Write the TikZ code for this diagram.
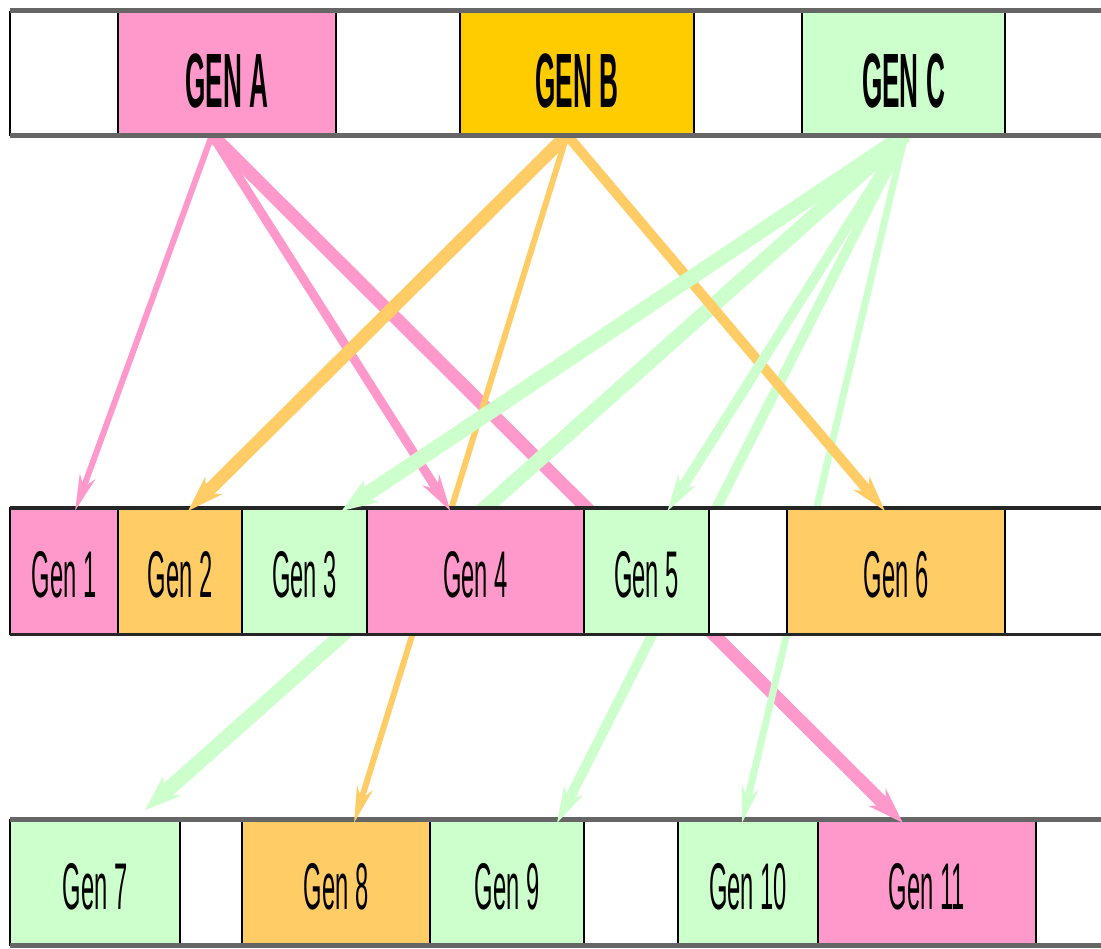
\documentclass[tikz,border=0pt]{standalone}
\usepackage{fontspec}
\setmainfont{Liberation Sans}
\usepackage{graphicx}
\usetikzlibrary{arrows.meta}

\definecolor{genpink}{HTML}{FF99CC}
\definecolor{gengold}{HTML}{FFCC00}
\definecolor{gengreen}{HTML}{CCFFCC}
\definecolor{genorange}{HTML}{FFCC66}

% drawing layers, from lowest to highest
\pgfdeclarelayer{rowlow}
\pgfdeclarelayer{passing}
\pgfdeclarelayer{rowmid}
\pgfdeclarelayer{direct}
\pgfsetlayers{rowlow,passing,rowmid,direct,main}

% condensed lettering
\newcommand{\narrowtxt}[1]{\scalebox{0.36}[1]{#1}}
\newcommand{\narrowbold}[1]{\scalebox{0.34}[1]{\bfseries #1}}

\tikzset{
  cell/.style={rectangle, draw=black, line width=1.6pt, inner sep=0pt,
    outer sep=0pt, anchor=north west},
  toprow/.style={cell, minimum height=123pt,
    font=\fontsize{77}{80}\selectfont, text height=69pt, text depth=0pt},
  midrow/.style={cell, minimum height=126pt,
    font=\fontsize{66}{70}\selectfont, text height=53pt, text depth=0pt},
  botrow/.style={cell, minimum height=125pt,
    font=\fontsize{66}{70}\selectfont, text height=53pt, text depth=0pt},
  lightedge/.style={line width=5pt, draw=black!60},
  darkedge/.style={line width=3pt, draw=black!85},
  link/.style={-{Stealth[length=36pt, width=9pt 1.15, inset=11pt]}},
  pinklink/.style={link, draw=genpink, fill=genpink},
  orangelink/.style={link, draw=genorange, fill=genorange},
  greenlink/.style={link, draw=gengreen, fill=gengreen},
}

\begin{document}
\begin{tikzpicture}[x=1pt, y=-1pt]
\useasboundingbox (0,0) rectangle (1101,949);
\clip (0,0) rectangle (1101,949);

% ---------- top row: GEN A, GEN B, GEN C ----------
\node[toprow, fill=white, minimum width=108pt] (t0) at (10,12) {};
\node[toprow, fill=genpink, minimum width=218pt] (gA) at (118,12) {\narrowbold{GEN A}};
\node[toprow, fill=white, minimum width=124pt] (t1) at (336,12) {};
\node[toprow, fill=gengold, minimum width=234pt] (gB) at (460,12) {\narrowbold{GEN B}};
\node[toprow, fill=white, minimum width=108pt] (t2) at (694,12) {};
\node[toprow, fill=gengreen, minimum width=203pt] (gC) at (802,12) {\narrowbold{GEN C}};
\node[toprow, fill=white, minimum width=100pt] (t3) at (1005,12) {};
\draw[lightedge] (10,11) -- (1101,11);
\draw[lightedge] (10,136) -- (1101,136);

% ---------- middle row: Gen 1 ... Gen 6 ----------
\begin{pgfonlayer}{rowmid}
\node[midrow, fill=genpink, minimum width=108pt] (g1) at (10,508) {\narrowtxt{Gen 1}};
\node[midrow, fill=genorange, minimum width=124pt] (g2) at (118,508) {\narrowtxt{Gen 2}};
\node[midrow, fill=gengreen, minimum width=125pt] (g3) at (242,508) {\narrowtxt{Gen 3}};
\node[midrow, fill=genpink, minimum width=217pt] (g4) at (367,508) {\narrowtxt{Gen 4}};
\node[midrow, fill=gengreen, minimum width=125pt] (g5) at (584,508) {\narrowtxt{Gen 5}};
\node[midrow, fill=white, minimum width=78pt] (m0) at (709,508) {};
\node[midrow, fill=genorange, minimum width=218pt] (g6) at (787,508) {\narrowtxt{Gen 6}};
\node[midrow, fill=white, minimum width=100pt] (m1) at (1005,508) {};
\draw[darkedge] (10,508) -- (1101,508);
\draw[darkedge] (10,634) -- (1101,634);
\end{pgfonlayer}

% ---------- bottom row: Gen 7 ... Gen 11 ----------
\begin{pgfonlayer}{rowlow}
\node[botrow, fill=gengreen, minimum width=170pt] (g7) at (10,820) {\narrowtxt{Gen 7}};
\node[botrow, fill=white, minimum width=62pt] (b0) at (180,820) {};
\node[botrow, fill=genorange, minimum width=188pt] (g8) at (242,820) {\narrowtxt{Gen 8}};
\node[botrow, fill=gengreen, minimum width=154pt] (g9) at (430,820) {\narrowtxt{Gen 9}};
\node[botrow, fill=white, minimum width=94pt] (b1) at (584,820) {};
\node[botrow, fill=gengreen, minimum width=140pt] (g10) at (678,820) {\narrowtxt{Gen 10}};
\node[botrow, fill=genpink, minimum width=218pt] (g11) at (818,820) {\narrowtxt{Gen 11}};
\node[botrow, fill=white, minimum width=70pt] (b2) at (1036,820) {};
\draw[lightedge] (10,819) -- (1101,819);
\draw[lightedge] (10,945) -- (1101,945);
\end{pgfonlayer}

% ---------- links that run behind the middle row ----------
\begin{pgfonlayer}{passing}
\draw[pinklink, line width=13pt] ([xshift=-15pt]gA.south) -- ([xshift=-24pt,yshift=-3pt]g11.north);
\draw[orangelink, line width=6pt] ([xshift=-10pt]gB.south) -- ([xshift=18pt,yshift=-3pt]g8.north);
\draw[greenlink, line width=15pt] ([xshift=1.5pt]gC.south) -- ([xshift=50pt,yshift=10pt]g7.north);
\draw[greenlink, line width=10pt] ([xshift=1.5pt]gC.south) -- ([xshift=50pt,yshift=-3pt]g9.north);
\draw[greenlink, line width=7pt] ([xshift=1.5pt]gC.south) -- ([xshift=-6pt,yshift=-3pt]g10.north);
\end{pgfonlayer}

% ---------- links ending on the middle row ----------
\begin{pgfonlayer}{direct}
\draw[pinklink, line width=6pt] ([xshift=-15pt]gA.south) -- ([xshift=11pt,yshift=-3pt]g1.north);
\draw[pinklink, line width=9pt] ([xshift=-15pt]gA.south) -- ([xshift=-25pt,yshift=-3pt]g4.north);
\draw[orangelink, line width=13pt] ([xshift=-10pt]gB.south) -- ([xshift=8pt,yshift=-3pt]g2.north);
\draw[orangelink, line width=10pt] ([xshift=-10pt]gB.south) -- ([xshift=-11pt,yshift=-3pt]g6.north);
\draw[greenlink, line width=15pt] ([xshift=1.5pt]gC.south) -- ([xshift=37pt,yshift=-3pt]g3.north);
\draw[greenlink, line width=10pt] ([xshift=1.5pt]gC.south) -- ([xshift=21pt,yshift=-3pt]g5.north);
\end{pgfonlayer}
\end{tikzpicture}
\end{document}
